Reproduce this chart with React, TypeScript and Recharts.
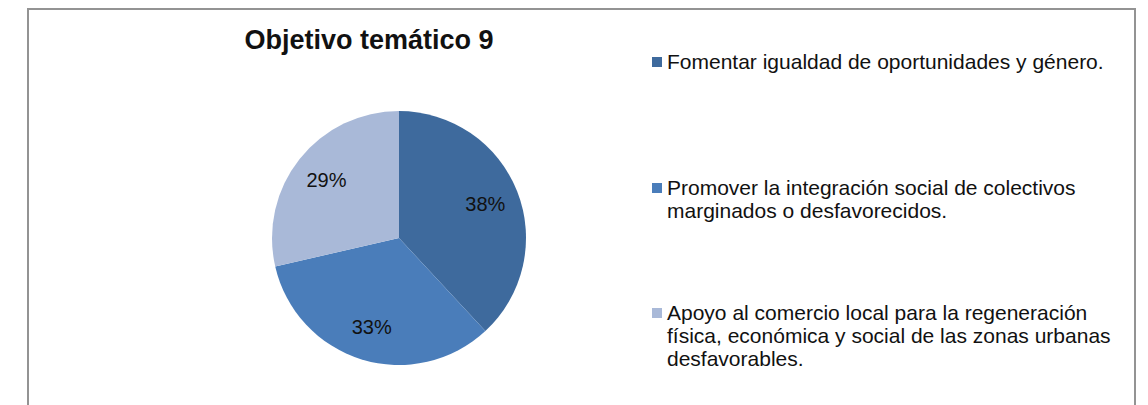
import React from 'react'
import { PieChart, Pie, Cell, Legend } from 'recharts'

const categories = [
  'Fomentar igualdad de oportunidades y género.',
  'Promover la integración social de colectivos marginados o desfavorecidos.',
  'Apoyo al comercio local para la regeneración física, económica y social de las zonas urbanas desfavorables.',
]
const shares = [38.1, 33.3, 28.6]
const colors = ['#3E6A9D', '#4A7DBA', '#A9B9D8']
const title = 'Objetivo temático 9'

const data = categories.map((name, i) => ({ name, value: shares[i] }))

const RADIAN = Math.PI / 180
const FONT = '"Liberation Sans", Arial, sans-serif'

const renderLabel = (props: any) => {
  const { cx, cy, midAngle, outerRadius, percent } = props
  const r = outerRadius * 0.73
  const x = cx + r * Math.cos(-midAngle * RADIAN)
  const y = cy + r * Math.sin(-midAngle * RADIAN)
  return (
    <text
      x={x}
      y={y}
      fill="#111"
      fontSize={20}
      fontFamily={FONT}
      textAnchor="middle"
      dominantBaseline="central"
    >
      {`${Math.round(percent * 100)}%`}
    </text>
  )
}

const renderLegend = () => (
  <div style={{ fontFamily: FONT, fontSize: 21, lineHeight: '23px', color: '#111' }}>
    {data.map((d, i) => (
      <div key={d.name} style={{ display: 'flex', height: 125.5 }}>
        <div
          style={{
            width: 10,
            height: 10,
            marginTop: 7,
            marginRight: 5,
            flexShrink: 0,
            background: colors[i],
          }}
        />
        <div style={{ width: 460 }}>{d.name}</div>
      </div>
    ))}
  </div>
)

export default function App() {
  return (
    <div
      style={{
        position: 'absolute',
        left: 0,
        top: 0,
        width: 1148,
        height: 405,
        overflow: 'hidden',
        background: '#fff',
      }}
    >
      <div
        style={{
          position: 'absolute',
          left: 27,
          top: 8,
          width: 1105,
          height: 430,
          border: '2px solid #939393',
        }}
      />
      <div
        style={{
          position: 'absolute',
          left: 169,
          top: 25,
          width: 400,
          textAlign: 'center',
          fontFamily: FONT,
          fontWeight: 'bold',
          fontSize: 27,
          color: '#111',
        }}
      >
        {title}
      </div>
      <div style={{ position: 'absolute', left: 0, top: 0 }}>
        <PieChart width={1148} height={405} margin={{ top: 0, right: 0, bottom: 0, left: 0 }}>
          <Pie
            data={data}
            dataKey="value"
            nameKey="name"
            cx={399}
            cy={238}
            outerRadius={127}
            startAngle={90}
            endAngle={-270}
            stroke="none"
            label={renderLabel}
            labelLine={false}
            isAnimationActive={false}
          >
            {data.map((d, i) => (
              <Cell key={d.name} fill={colors[i]} />
            ))}
          </Pie>
          <Legend
            content={renderLegend}
            wrapperStyle={{ position: 'absolute', left: 652, top: 50, width: 480 }}
          />
        </PieChart>
      </div>
    </div>
  )
}
